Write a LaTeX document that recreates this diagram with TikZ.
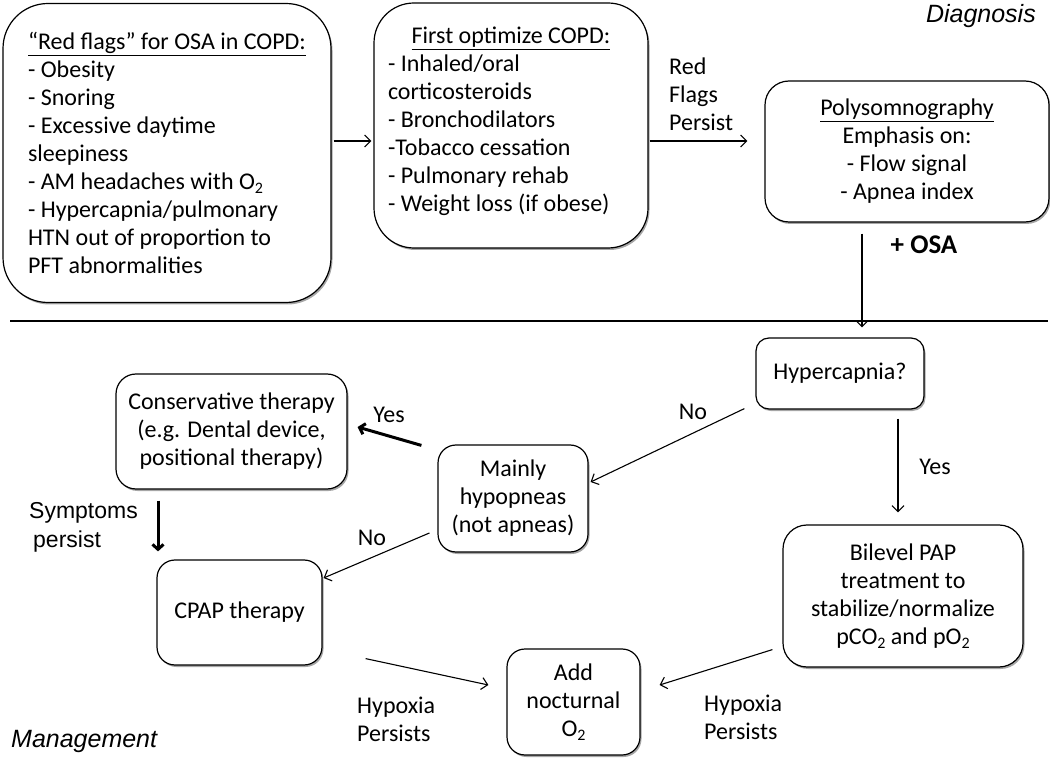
\documentclass[tikz,border=0pt]{standalone}
\usepackage{fontspec}
\setmainfont{Carlito}
\newfontfamily\arialfont{Liberation Sans}
\usetikzlibrary{arrows.meta,calc,shadows}
\newcommand{\subtwo}{\raisebox{-4pt}{\fontsize{16}{16}\selectfont 2}}
\begin{document}
\begin{tikzpicture}[x=1pt,y=-1pt,
  box/.style={draw=black, line width=1.2pt, fill=white, inner sep=0pt,
    drop shadow={shadow xshift=1.5pt, shadow yshift=-2pt, fill=black, opacity=0.35}},
  txt/.style={font=\fontsize{24}{28}\selectfont},
  lbl/.style={inner sep=0pt, font=\fontsize{24}{28}\selectfont},
  arlbl/.style={inner sep=0pt, font=\arialfont\fontsize{23}{29}\selectfont},
  seclbl/.style={inner sep=0pt, font=\arialfont\itshape\fontsize{25}{30}\selectfont},
  arr/.style={line width=1.1pt, -{Straight Barb[length=6pt,width=12pt]}},
  heavyarr/.style={line width=3pt, -{Straight Barb[length=5pt,width=11pt]}}
]
\useasboundingbox (0,0) rectangle (1050,759);

% boxes
\node[box, txt, rounded corners=45pt, minimum width=328pt, minimum height=299pt, align=left] (redflags) at (167,153)
  {\underline{“Red flags” for OSA in COPD:}\\- Obesity\\- Snoring\\- Excessive daytime\\sleepiness\\- AM headaches with O\subtwo\\- Hypercapnia/pulmonary\\HTN out of proportion to\\PFT abnormalities};

\node[box, txt, rounded corners=40pt, minimum width=274pt, minimum height=245pt] (optimize) at (511,125.5)
  {\begin{minipage}{246pt}\fontsize{24}{28}\selectfont\centering\underline{First optimize COPD:}\par\raggedright
  - Inhaled/oral\\corticosteroids\\- Bronchodilators\\-Tobacco cessation\\- Pulmonary rehab\\- Weight loss (if obese)\vspace*{8pt}\end{minipage}};

\node[box, txt, rounded corners=24pt, minimum width=284pt, minimum height=141pt, align=center] (psg) at (907,151.5)
  {\underline{Polysomnography}\\Emphasis on:\\- Flow signal\\- Apnea index};

\node[box, txt, rounded corners=13pt, minimum width=168pt, minimum height=71pt] (hyper) at (840,373.5)
  {Hypercapnia?};

\node[box, txt, rounded corners=18pt, minimum width=150pt, minimum height=107pt, align=center] (mainly) at (513,498.5)
  {Mainly\\hypopneas\\(not apneas)};

\node[box, txt, rounded corners=20pt, minimum width=231pt, minimum height=115pt, align=center] (cons) at (231.5,431.5)
  {Conservative therapy\\(e.g. Dental device,\\positional therapy)};

\node[box, txt, rounded corners=18pt, minimum width=165pt, minimum height=105pt] (cpap) at (239.5,612.5)
  {CPAP therapy};

\node[box, txt, rounded corners=24pt, minimum width=240pt, minimum height=142pt, align=center] (bilevel) at (903,596)
  {Bilevel PAP\\treatment to\\stabilize/normalize\\pCO\subtwo{} and pO\subtwo};

\node[box, txt, rounded corners=18pt, minimum width=133pt, minimum height=106pt, align=center] (addo2) at (573.5,702)
  {Add\\nocturnal\\O\subtwo};

% separator
\coordinate (sepL) at (10,321);
\coordinate (sepR) at (1048,321);
\draw[line width=1.1pt] (sepL) -- (sepR);

% labels
\node[lbl, align=left, anchor=west] (rfp) at (669,94) {Red\\Flags\\Persist};
\node[lbl, font=\fontsize{27}{30}\selectfont\bfseries] (osa) at (924,245) {+ OSA};
\node[lbl] (no1) at (693,412) {No};
\node[lbl] (yes1) at (935,467) {Yes};
\node[lbl] (yes2) at (389,415) {Yes};
\node[lbl] (no2) at (372,538) {No};
\node[arlbl, align=left, anchor=west] (symp) at (29,527) {Symptoms\\\hspace*{4pt}persist};
\node[lbl, align=left, anchor=west] (hyp1) at (357,719) {Hypoxia\\Persists};
\node[lbl, align=left, anchor=west] (hyp2) at (704,717) {Hypoxia\\Persists};
\node[seclbl, anchor=east] (diag) at (1036,16) {Diagnosis};
\node[seclbl, anchor=west] (mgmt) at (11,741) {Management};

% connectors
\draw[arr] ($(redflags.east)+(2,-12)$) -- ($(optimize.west)+(-2,15.5)$);
\draw[arr] ($(optimize.east)+(1,15.5)$) -- ($(psg.west)+(-17,-10.5)$);
\draw[arr] ($(psg.south)+(-45,11)$) -- ($(hyper.north)+(22,-10)$);
\draw[arr] ($(hyper.south)+(58,9)$) -- ($(bilevel.north)+(-5,-12)$);
\draw[arr] ($(hyper.south west)+(-11,-1)$) -- ($(mainly.east)+(2,-16.5)$);
\draw[heavyarr] ($(mainly.north west)+(-16,1)$) -- ($(cons.east)+(10,-4.5)$);
\draw[heavyarr] ($(cons.south)+(-73.5,11)$) -- ($(cpap.north)+(-81.5,-8)$);
\draw[arr] ($(mainly.west)+(-8,34.5)$) -- ($(cpap.east)+(1,-34.5)$);
\draw[arr] ($(cpap.south east)+(43,-7)$) -- ($(addo2.west)+(-18,-17)$);
\draw[arr] ($(bilevel.south west)+(-10,-18)$) -- ($(addo2.east)+(19,-17)$);
\end{tikzpicture}
\end{document}
